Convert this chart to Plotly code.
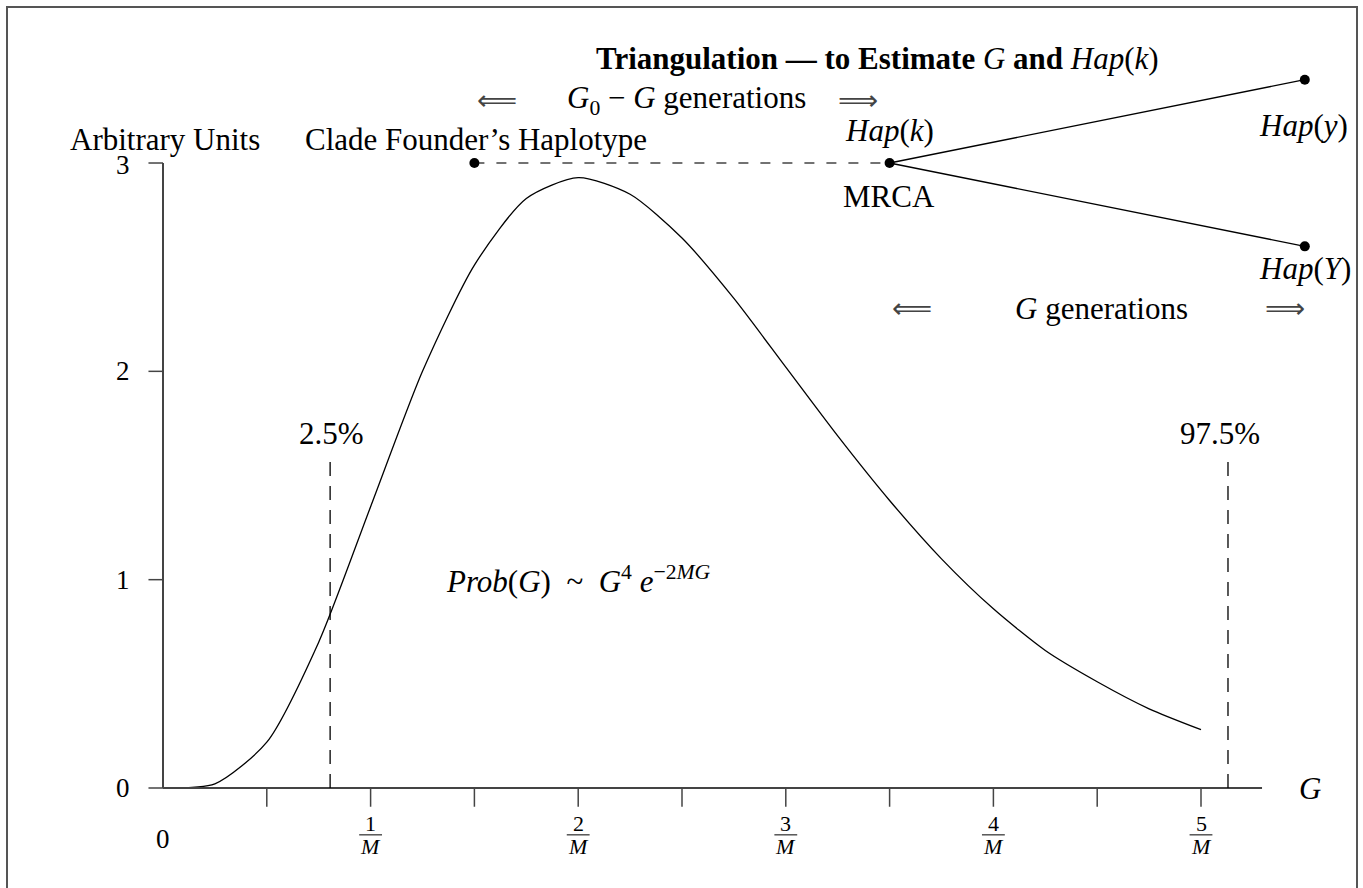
import plotly.graph_objects as go

# ---------------- data ----------------
G_vals = [0, 0.25, 0.5, 0.75, 1.0, 1.25, 1.5, 1.75, 2.0, 2.25, 2.5, 2.75,
          3.0, 3.25, 3.5, 3.75, 4.0, 4.25, 4.5, 4.75, 5.0]
prob_vals = [0, 0.02, 0.22, 0.70, 1.35, 2.00, 2.51, 2.83, 2.93, 2.85, 2.64, 2.35,
             2.02, 1.69, 1.38, 1.10, 0.86, 0.66, 0.51, 0.38, 0.28]

x_tick_pos = [0.5, 1.0, 1.5, 2.0, 2.5, 3.0, 3.5, 4.0, 4.5, 5.0]
frac_pos = [1, 2, 3, 4, 5]
frac_num = ["1", "2", "3", "4", "5"]
y_tick_pos = [0, 1, 2, 3]
y_tick_text = ["0", "1", "2", "3"]

pct_x = [0.805, 5.13]
pct_text = ["2.5%", "97.5%"]

founder = (1.5, 3.0)
mrca = (3.5, 3.0)
hap_y = (5.5, 3.4)
hap_Y = (5.5, 2.6)

# ---------------- geometry ----------------
W, H = 1363, 888
X0PX, XSCALE = 163, 207.6
Y0PX, YSCALE = 788, 208.33
xr = [-X0PX / XSCALE, (W - X0PX) / XSCALE]
yr = [(Y0PX - H) / YSCALE, Y0PX / YSCALE]

FONT = "Liberation Serif, DejaVu Serif, serif"
BLACK = "#000000"
GRAY = "#444444"
TS = 31  # main text size

fig = go.Figure()

# density curve
fig.add_trace(go.Scatter(x=G_vals, y=prob_vals, mode="lines",
                         line=dict(color=BLACK, width=1.3, shape="spline", smoothing=0.7),
                         hoverinfo="skip"))

# founder -> MRCA dashed
fig.add_trace(go.Scatter(x=[founder[0], mrca[0]], y=[founder[1], mrca[1]], mode="lines",
                         line=dict(color=GRAY, width=1.5, dash="10px,12px"), hoverinfo="skip"))
# MRCA -> haplotypes
fig.add_trace(go.Scatter(x=[hap_y[0], mrca[0], hap_Y[0]], y=[hap_y[1], mrca[1], hap_Y[1]],
                         mode="lines", line=dict(color=BLACK, width=1.3), hoverinfo="skip"))
# dots
fig.add_trace(go.Scatter(x=[founder[0], mrca[0], hap_y[0], hap_Y[0]],
                         y=[founder[1], mrca[1], hap_y[1], hap_Y[1]], mode="markers",
                         marker=dict(color=BLACK, size=10), hoverinfo="skip"))

shapes = []
# axes
shapes.append(dict(type="line", xref="x", yref="y", x0=0, y0=0, x1=5.294, y1=0,
                   line=dict(color=GRAY, width=2)))
shapes.append(dict(type="line", xref="x", yref="y", x0=0, y0=0, x1=0, y1=3,
                   line=dict(color=GRAY, width=2)))
for xt in x_tick_pos:
    shapes.append(dict(type="line", xref="x", yref="y", x0=xt, y0=0, x1=xt, y1=-0.09,
                       line=dict(color=GRAY, width=1.5)))
for yt in y_tick_pos:
    shapes.append(dict(type="line", xref="x", yref="y", x0=-0.07, y0=yt, x1=0, y1=yt,
                       line=dict(color=GRAY, width=1.5)))
# percentile dashed lines
for px in pct_x:
    shapes.append(dict(type="line", xref="x", yref="y", x0=px, y0=0, x1=px, y1=1.57,
                       line=dict(color=BLACK, width=1.3, dash="14px,10px")))
# fraction bars
for fp in frac_pos:
    shapes.append(dict(type="line", xref="x", yref="y", x0=fp - 0.055, y0=-0.225,
                       x1=fp + 0.055, y1=-0.225, line=dict(color=BLACK, width=1)))
# frame
shapes.append(dict(type="rect", xref="paper", yref="paper", x0=7 / W, x1=1357 / W,
                   y0=-0.05, y1=1 - 7 / H, line=dict(color="#555555", width=2)))

ann = []


def txt(x, y, t, size=TS, color=BLACK, family=FONT):
    ann.append(dict(x=x, y=y, xref="x", yref="y", text=t, showarrow=False,
                    xanchor="center", yanchor="middle",
                    font=dict(family=family, size=size, color=color)))


# y tick labels
for yt, lab in zip(y_tick_pos, y_tick_text):
    txt(-0.193, yt - (0.01 if yt == 3 else 0), lab, size=27)
# x labels
txt(0, -0.245, "0", size=27)
for fp, num in zip(frac_pos, frac_num):
    txt(fp, -0.17, num, size=22)
    txt(fp, -0.283, "<i>M</i>", size=22)
txt(5.525, 0, "<i>G</i>", size=TS)

# percent labels
for px, lab in zip(pct_x, pct_text):
    txt(px + (0.005 if lab == "2.5%" else -0.04), 1.70, lab)

# formula
txt(2.0, 1.0, "<i>Prob</i>(<i>G</i>)  ~  <i>G</i><sup>4</sup> <i>e</i><sup>−2<i>MG</i></sup>")

# top texts
txt(3.44, 3.504, "<b>Triangulation — to Estimate</b> <i>G</i> <b>and</b> <i>Hap</i>(<i>k</i>)")
txt(1.61, 3.302, "⟸", size=28, color=GRAY, family="DejaVu Sans")
txt(2.52, 3.302, "<i>G</i><sub>0</sub> − <i>G</i> generations")
txt(3.35, 3.302, "⟹", size=28, color=GRAY, family="DejaVu Sans")
txt(0.01, 3.112, "Arbitrary Units")
txt(1.508, 3.112, "Clade Founder’s Haplotype")
txt(3.50, 3.158, "<i>Hap</i>(<i>k</i>)")
txt(3.497, 2.837, "MRCA")
txt(5.496, 3.182, "<i>Hap</i>(<i>y</i>)")
txt(5.50, 2.496, "<i>Hap</i>(<i>Y</i>)")
txt(3.61, 2.304, "⟸", size=28, color=GRAY, family="DejaVu Sans")
txt(4.523, 2.304, "<i>G</i> generations")
txt(5.405, 2.304, "⟹", size=28, color=GRAY, family="DejaVu Sans")

fig.update_layout(
    width=W, height=H, autosize=False,
    margin=dict(l=0, r=0, t=0, b=0, pad=0),
    paper_bgcolor="white", plot_bgcolor="white",
    showlegend=False,
    xaxis=dict(range=xr, visible=False, fixedrange=True),
    yaxis=dict(range=yr, visible=False, fixedrange=True),
    shapes=shapes, annotations=ann,
)

fig.write_html("out.html", config={"displayModeBar": False, "responsive": False},
               post_script="document.body.style.margin='0px';document.body.style.overflow='hidden';")
